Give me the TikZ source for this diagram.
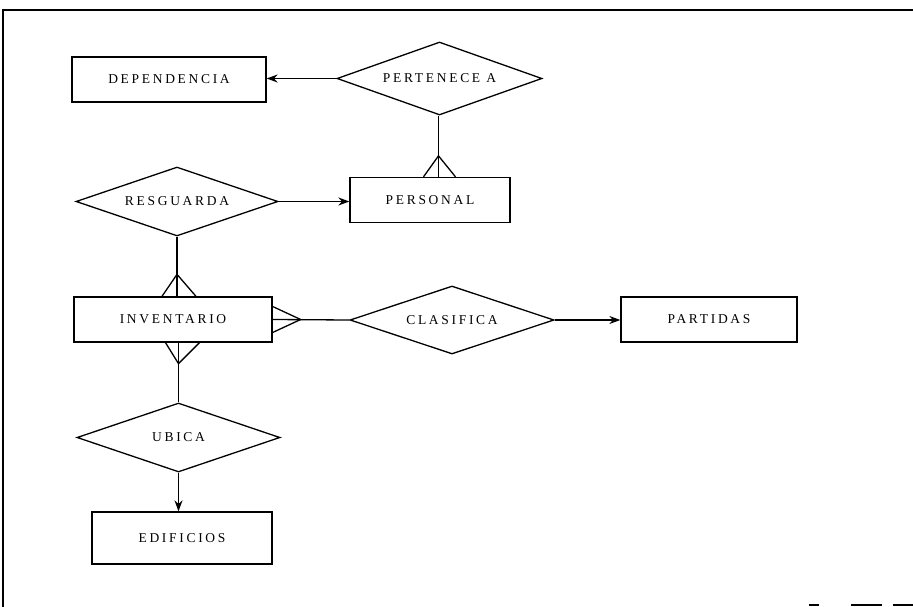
\documentclass[tikz,border=0pt]{standalone}
\usepackage{fontspec}
\setmainfont{Liberation Serif}[LetterSpace=20]
\usetikzlibrary{shapes.geometric,arrows.meta,calc}
\begin{document}
\begin{tikzpicture}[x=1pt,y=-1pt,
  every node/.style={font=\fontsize{13.5}{15}\selectfont},
  entity/.style={draw,rectangle,line width=1.3pt,inner sep=0pt,minimum height=45pt},
  rel/.style={draw,diamond,aspect=3,line width=1.3pt,inner sep=0pt},
  conn/.style={line width=1.3pt},
  arr/.style={conn,-{Stealth[length=11pt,width=8pt]}},
  crow/.style={line width=1.3pt}]
\useasboundingbox (0,0) rectangle (913,607);
% frame
\draw[line width=1.4pt] (3,607) -- (3,10) -- (913,10);
\draw[line width=1.4pt] (809,605) -- (819,605) (851,605) -- (882,605) (893,605) -- (913,605);
% nodes
\node[entity,minimum width=194pt] (dep) at (169,79.5) {DEPENDENCIA};
\node[rel,minimum width=205pt,minimum height=73pt] (pert) at (439.5,78.5) {PERTENECE A};
\node[entity,minimum width=160pt] (pers) at (430,200) {PERSONAL};
\node[rel,minimum width=202pt,minimum height=69pt] (resg) at (177,201.5) {RESGUARDA};
\node[entity,minimum width=198pt] (inv) at (173,319.5) {INVENTARIO};
\node[rel,minimum width=204pt,minimum height=68pt] (clas) at (452,320) {CLASIFICA};
\node[entity,minimum width=176pt] (part) at (709,319.5) {PARTIDAS};
\node[rel,minimum width=203pt,minimum height=69pt] (ubi) at (178.5,437.5) {UBICA};
\node[entity,minimum width=180pt,minimum height=52pt] (edif) at (182,538) {EDIFICIOS};
% connectors
\draw[arr] (pert.west) -- (pert.west -| dep.east);
\draw[arr] (resg.east) -- (resg.east -| pers.west);
\draw[arr] (clas.east) -- (clas.east -| part.west);
\draw[arr] (ubi.south) -- (ubi.south |- edif.north);
% PERTENECE A -- PERSONAL (many)
\coordinate (pb) at ($(pert.south |- pers.north)+(-1,0)$);
\coordinate (pt) at ($(pert.south)+(-1,0)$);
\coordinate (pa) at ($(pb)+(0,-21)$);
\draw[conn] (pt) -- (pb);
\draw[crow] ($(pb)+(-15,0)$) -- (pa) -- ($(pb)+(17,0)$);
% RESGUARDA -- INVENTARIO (many)
\coordinate (rt) at (resg.south);
\coordinate (ib) at (resg.south |- inv.north);
\coordinate (ia) at ($(ib)+(0,-22)$);
\draw[conn] (rt) -- (ib);
\draw[crow] ($(ib)+(-15,0)$) -- (ia) -- ($(ib)+(19,0)$);
% INVENTARIO -- UBICA (many)
\coordinate (is) at ($(ubi.north |- inv.south)$);
\coordinate (isa) at ($(is)+(0,21)$);
\draw[conn] (is) -- (ubi.north);
\draw[crow] ($(is)+(-13,0)$) -- (isa) -- ($(is)+(21,0)$);
% INVENTARIO -- CLASIFICA (many)
\coordinate (ie) at (inv.east);
\coordinate (iea) at ($(ie)+(28,0)$);
\draw[conn] (ie) -- (clas.west);
\draw[crow] ($(ie)+(0,-13)$) -- (iea) -- ($(ie)+(0,13)$);
\end{tikzpicture}
\end{document}
